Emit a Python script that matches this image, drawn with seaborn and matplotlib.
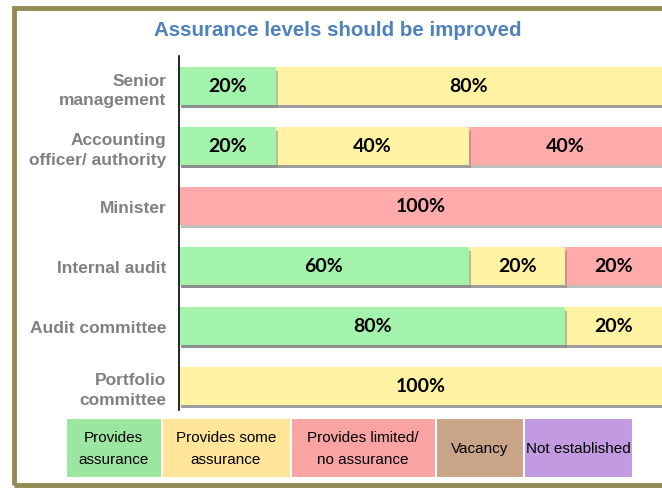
import matplotlib
matplotlib.use('Agg')
import matplotlib.pyplot as plt
import matplotlib.patheffects as pe
from matplotlib.patches import Rectangle
import seaborn as sns
import pandas as pd
import numpy as np

categories = ['Senior\nmanagement', 'Accounting\nofficer/ authority', 'Minister',
              'Internal audit', 'Audit committee', 'Portfolio\ncommittee']
provides = [20, 20, 0, 60, 80, 0]
some = [80, 40, 0, 20, 20, 100]
limited = [0, 40, 100, 20, 0, 0]

legend_labels = ['Provides\nassurance', 'Provides some\nassurance', 'Provides limited/\nno assurance',
                 'Vacancy', 'Not established']

bar_colors = ['#A4F3AC', '#FFF3A3', '#FFABAB']
legend_colors = ['#9BE6A1', '#FFE598', '#F9A3A3', '#C9A487', '#C29ADF']

sns.set_style('white')
narrow = ['Liberation Sans Narrow', 'Liberation Sans', 'DejaVu Sans']

df = pd.DataFrame({'cat': categories, 'provides': provides, 'some': some, 'limited': limited})
df['c1'] = df['provides']
df['c2'] = df['provides'] + df['some']
df['c3'] = df['c2'] + df['limited']

fig = plt.figure(figsize=(6.62, 4.89), dpi=100)
W, H = 662, 489
ax = fig.add_axes([179 / W, 1 - 417 / H, (662 - 179) / W, 360 / H])

shadow = [pe.SimplePatchShadow(offset=(1.5, -2.5), shadow_rgbFace='#808080', alpha=0.5), pe.Normal()]
for col, colr in zip(['c3', 'c2', 'c1'], bar_colors[::-1]):
    sns.barplot(data=df, x=col, y='cat', color=colr, width=0.62, ax=ax, saturation=1, orient='h')
for p in ax.patches:
    p.set_path_effects(shadow)
    p.set_linewidth(0)

for i in range(len(categories)):
    left = 0
    for v in [provides[i], some[i], limited[i]]:
        if v > 0:
            ax.text(left + v / 2, i, f'{v}%', ha='center', va='center', fontsize=14,
                    fontweight='bold', family=['Lato', 'DejaVu Sans'], color='black')
        left += v

ax.set_xlim(0, 100)
ax.set_ylim(5.5, -0.5)
ax.set_xlabel('')
ax.set_ylabel('')
ax.set_xticks([])
for s in ['top', 'right', 'bottom']:
    ax.spines[s].set_visible(False)
ax.spines['left'].set_color('black')
ax.spines['left'].set_linewidth(1.2)
ax.spines['left'].set_bounds(5.4, -0.5)
ax.tick_params(axis='y', length=0, pad=9)
for lab in ax.get_yticklabels():
    lab.set_fontsize(12.5)
    lab.set_fontweight('bold')
    lab.set_color('#808080')
    lab.set_family(narrow)
    lab.set_linespacing(1.35)

fig.text(338 / W, 1 - 30 / H, 'Assurance levels should be improved', ha='center', va='center',
         fontsize=14.8, fontweight='bold', color='#4F81BD', family=narrow)

# outer frame
fig.patches.append(Rectangle((14 / W, 1 - 486 / H), 700 / W, 477 / H, transform=fig.transFigure,
                             fill=False, edgecolor='#948A54', linewidth=3.5, clip_on=False))

# legend boxes
edges = [65, 161, 290, 435, 523, 632]
for k, lab in enumerate(legend_labels):
    x0, x1 = edges[k] + 1, edges[k + 1]
    fig.patches.append(Rectangle((x0 / W, 1 - 478 / H), (x1 - x0) / W, 59 / H,
                                 transform=fig.transFigure, facecolor=legend_colors[k],
                                 edgecolor='white', linewidth=0.8))
    fig.text((x0 + x1) / 2 / W, 1 - 449 / H, lab, ha='center', va='center', fontsize=11,
             color='black', family=narrow, linespacing=1.75)

fig.savefig('out.png', dpi=100)
